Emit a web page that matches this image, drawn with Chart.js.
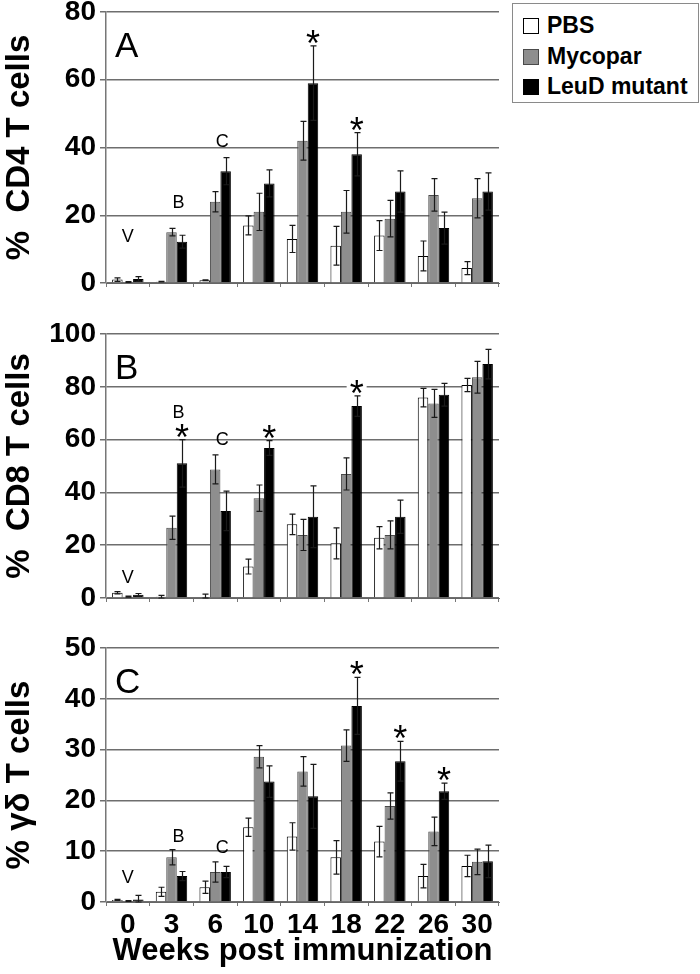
<!DOCTYPE html>
<html>
<head>
<meta charset="utf-8">
<script src="https://cdn.jsdelivr.net/npm/chart.js@4.4.0/dist/chart.umd.min.js"></script>
<style>
  html, body { margin: 0; padding: 0; background: #fff; width: 700px; height: 974px; overflow: hidden; }
  #wrap { position: relative; width: 700px; height: 974px; }
  canvas { position: absolute; left: 0; }
  #legend { position: absolute; left: 512px; top: 3px; width: 185px; height: 98px; border: 1.5px solid #8a8a8a;
            background: #fff; font: bold 23px "Liberation Sans", Arial, sans-serif; color: #000; }
  .item { position: absolute; left: 10px; height: 30px; line-height: 30px; white-space: nowrap; }
  .sw { display: inline-block; width: 14px; height: 14px; border: 1px solid #333; vertical-align: -1px; margin-right: 8px; }
</style>
</head>
<body>
<div id="wrap">
  <canvas id="cd4" width="700" height="330" style="top:-20px"></canvas>
  <canvas id="cd8" width="700" height="325" style="top:295px"></canvas>
  <canvas id="gd" width="700" height="354" style="top:620px"></canvas>
  <div id="legend"></div>
</div>
<script>
const weeks = ['0', '3', '6', '10', '14', '18', '22', '26', '30'];
const seriesNames = ['PBS', 'Mycopar', 'LeuD mutant'];

// A: % CD4 T cells
const cd4Pbs      = [1.0, 0.4, 0.8, 17, 13, 11, 14, 8, 4.4];
const cd4PbsErr   = [0.5, 0.1, 0.1, 2.8, 4, 5.7, 4.4, 4.4, 1.9];
const cd4Myco     = [0.3, 15, 24, 21, 42, 21, 19, 26, 25];
const cd4MycoErr  = [0.1, 1.1, 3, 5.5, 5.7, 6.3, 5.4, 4.8, 5.8];
const cd4Leud     = [1.2, 12.2, 33, 29.4, 59, 38, 27, 16.2, 27];
const cd4LeudErr  = [0.7, 1.9, 4, 4, 11, 6.4, 6.1, 4.7, 5.5];

// B: % CD8 T cells
const cd8Pbs      = [2, 0.5, 0.3, 11.9, 27.9, 20.7, 22.8, 75.9, 80.7];
const cd8PbsErr   = [0.4, 0.5, 1.2, 2.8, 3.9, 5.9, 4.2, 3.5, 2.5];
const cd8Myco     = [0.5, 26.6, 48.7, 37.8, 23.9, 47, 23.9, 73.7, 83.6];
const cd8MycoErr  = [0.2, 4.4, 5.5, 5, 5.9, 6.1, 5.3, 5.3, 6];
const cd8Leud     = [1.2, 51, 33, 56.8, 30.8, 72.7, 30.8, 77, 88.6];
const cd8LeudErr  = [0.5, 9, 7.5, 2.8, 11.7, 3.9, 6.3, 4.3, 5.6];

// C: % gamma-delta T cells
const gdPbs       = [0.4, 2, 2.9, 14.7, 12.9, 8.8, 11.9, 5.1, 7.1];
const gdPbsErr    = [0.1, 0.9, 1.2, 1.8, 2.7, 3.3, 3, 2.3, 2.1];
const gdMyco      = [0.2, 8.8, 5.9, 28.6, 25.7, 30.8, 18.9, 13.9, 7.9];
const gdMycoErr   = [0.1, 1.5, 2, 2.2, 2.9, 3.1, 2.6, 2.8, 2.5];
const gdLeud      = [0.5, 5.1, 5.9, 23.7, 20.8, 38.6, 27.7, 21.8, 8];
const gdLeudErr   = [0.8, 0.9, 1.1, 3.1, 6.3, 5.6, 3.9, 1.6, 3.2];

// significance stars (index of week, over LeuD bar) and letter labels [text, week index, level]
const cd4Stars = [4, 5];
const cd8Stars = [1, 3, 5];
const gdStars  = [5, 6, 7];
const cd4Letters = [['V', 0, 13.6], ['B', 1, 23.6], ['C', 2, 41.6]];
const cd8Letters = [['V', 0, 7.6], ['B', 1, 70], ['C', 2, 60]];
const gdLetters  = [['V', 0, 4.7], ['B', 1, 12.8], ['C', 2, 10.6]];

const FONT = '"Liberation Sans", Arial, Helvetica, sans-serif';
Chart.defaults.font.family = FONT;
Chart.defaults.color = '#000';

const fills = ['#ffffff', '#8e8e8e', '#000000'];
const edges = ['#000000', '#4a4a4a', '#000000'];
const letterShift = { V: 0, B: 7, C: 7 };

// legend
const legendEl = document.getElementById('legend');
seriesNames.forEach((name, k) => {
  const d = document.createElement('div');
  d.className = 'item';
  d.style.top = (6 + k * 30.5) + 'px';
  d.innerHTML = '<span class="sw" style="background:' + fills[k] + ';border-color:' + edges[k] + '"></span>' + name;
  legendEl.appendChild(d);
});

const annotate = {
  id: 'annotate',
  afterDatasetsDraw(chart, args, opts) {
    const { ctx, chartArea } = chart;
    const x = chart.scales.x, y = chart.scales.y;
    ctx.save();
    // error bars
    ctx.strokeStyle = '#1a1a1a';
    ctx.lineWidth = 1.2;
    chart.data.datasets.forEach((ds, di) => {
      chart.getDatasetMeta(di).data.forEach((bar, i) => {
        const v = ds.data[i], e = ds.errors[i];
        const t = y.getPixelForValue(v + e);
        const b = y.getPixelForValue(Math.max(v - e, 0));
        const cx = Math.round(bar.x) + 0.5;
        ctx.beginPath();
        ctx.moveTo(cx, t); ctx.lineTo(cx, b);
        ctx.moveTo(cx - 3, t); ctx.lineTo(cx + 3, t);
        ctx.moveTo(cx - 3, b); ctx.lineTo(cx + 3, b);
        ctx.stroke();
      });
    });
    // stars over the LeuD bars
    const leud = chart.data.datasets[2];
    const lm = chart.getDatasetMeta(2);
    ctx.textAlign = 'center';
    ctx.textBaseline = 'alphabetic';
    ctx.font = '36px ' + FONT;
    opts.stars.forEach(i => {
      const bx = lm.data[i].x;
      const ty = y.getPixelForValue(leud.data[i] + leud.errors[i]);
      ctx.fillStyle = '#fff';
      ctx.fillRect(bx - 10, ty - 18, 20, 16);
      ctx.fillStyle = '#000';
      ctx.fillText('*', bx, ty + 10);
    });
    // group letters
    ctx.font = '18px ' + FONT;
    ctx.textBaseline = 'middle';
    opts.letters.forEach(([txt, i, lvl]) => {
      ctx.fillText(txt, x.getPixelForValue(i) + letterShift[txt], y.getPixelForValue(lvl));
    });
    // panel letter
    ctx.textAlign = 'left';
    ctx.textBaseline = 'alphabetic';
    ctx.font = '35px ' + FONT;
    ctx.fillText(opts.panel, chartArea.left + 9, chartArea.top + 45);
    ctx.restore();
  }
};

function makePanel(id, cfg) {
  const vals = cfg.values, errs = cfg.errors;
  const datasets = seriesNames.map((name, k) => ({
    label: name,
    data: vals[k],
    errors: errs[k],
    backgroundColor: fills[k],
    borderColor: edges[k],
    borderWidth: 1,
    categoryPercentage: 0.72,
    barPercentage: 1.0
  }));
  return new Chart(document.getElementById(id), {
    type: 'bar',
    data: { labels: weeks, datasets: datasets },
    plugins: [annotate],
    options: {
      responsive: false,
      animation: false,
      layout: { padding: { left: 0, right: 201, top: cfg.padTop, bottom: cfg.padBottom } },
      plugins: {
        legend: { display: false },
        tooltip: { enabled: false },
        annotate: { stars: cfg.stars, letters: cfg.letters, panel: cfg.panel }
      },
      scales: {
        x: {
          grid: { display: true, drawOnChartArea: false, drawTicks: true, tickLength: 4, color: '#777', offset: true },
          border: { display: true, color: '#666' },
          ticks: { display: cfg.showX, color: '#000', padding: 2, font: { size: 28, weight: 'bold' } },
          title: { display: cfg.showX, text: 'Weeks post immunization', color: '#000', padding: { top: 0, bottom: 4 },
                   font: { size: 31, weight: 'bold' } },
          afterFit(s) { s.height = cfg.xHeight; }
        },
        y: {
          min: 0, max: cfg.max,
          ticks: { stepSize: cfg.step, color: '#000', padding: 4, font: { size: 28, weight: 'bold', lineHeight: 1 } },
          grid: { color: '#6e6e6e', lineWidth: 1.5, tickLength: 6 },
          border: { display: true, color: '#777', width: 1.5 },
          title: { display: true, text: cfg.yTitle, color: '#000', padding: 0, font: { size: 33, weight: 'bold' } },
          afterFit(s) { s.width = 106; }
        }
      }
    }
  });
}

makePanel('cd4', {
  values: [cd4Pbs, cd4Myco, cd4Leud], errors: [cd4PbsErr, cd4MycoErr, cd4LeudErr],
  max: 80, step: 20, yTitle: '%  CD4 T cells', panel: 'A',
  stars: cd4Stars, letters: cd4Letters,
  padTop: 32, padBottom: 15, xHeight: 12, showX: false
});
makePanel('cd8', {
  values: [cd8Pbs, cd8Myco, cd8Leud], errors: [cd8PbsErr, cd8MycoErr, cd8LeudErr],
  max: 100, step: 20, yTitle: '%  CD8 T cells', panel: 'B',
  stars: cd8Stars, letters: cd8Letters,
  padTop: 39, padBottom: 10, xHeight: 12, showX: false
});
makePanel('gd', {
  values: [gdPbs, gdMyco, gdLeud], errors: [gdPbsErr, gdMycoErr, gdLeudErr],
  max: 50, step: 10, yTitle: '% γδ T cells', panel: 'C',
  stars: gdStars, letters: gdLetters,
  padTop: 28, padBottom: 0, xHeight: 72, showX: true
});
</script>
</body>
</html>
